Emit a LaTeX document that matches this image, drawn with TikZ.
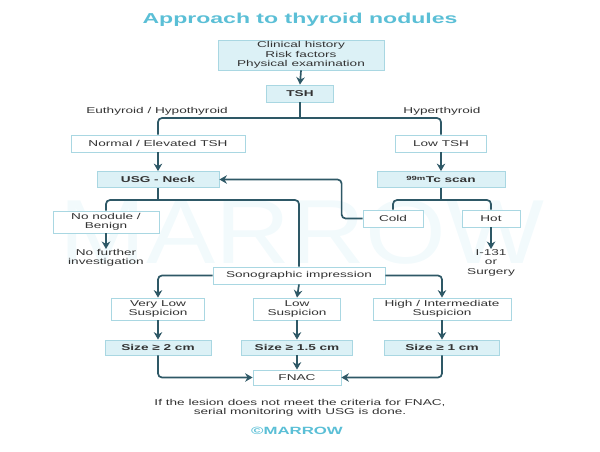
\documentclass[tikz,border=0pt]{standalone}
\usepackage{fontspec}
\setmainfont{Liberation Sans}[FakeStretch=1.6]
\newfontfamily\wmfont{Liberation Sans}[FakeStretch=1.14]
\usetikzlibrary{arrows.meta}
\definecolor{linec}{HTML}{2E5866}
\definecolor{bordc}{HTML}{A9D7E2}
\definecolor{fillc}{HTML}{DCF1F6}
\definecolor{txt}{HTML}{333333}
\definecolor{titlec}{HTML}{5BBFD6}
\definecolor{wmc}{HTML}{F2FAFC}
\newcommand\fs{\fontsize{8.5}{9.5}\selectfont}
\tikzset{
  wbox/.style={draw=bordc, line width=0.8pt, fill=white, text=txt, inner sep=0pt, align=center, font=\fs},
  lbox/.style={wbox, fill=fillc},
  fbox/.style={wbox, fill=fillc, font=\fs\bfseries},
  lbl/.style={text=txt, inner sep=0pt, align=center, font=\fs},
  conn/.style={draw=linec, line width=1.7pt, rounded corners=4pt},
  arr/.style={conn, -{Stealth[length=7.5pt,width=8.5pt]}}
}
\begin{document}
\begin{tikzpicture}[x=1pt,y=-1pt]
\useasboundingbox (0,0) rectangle (600,451);
% watermark
\node[text=wmc, inner sep=0pt, font=\wmfont\fontsize{91}{91}\selectfont] (wm) at (302,232) {MARROW};
% title
\node[text=titlec, inner sep=0pt, font=\fontsize{14.4}{15}\selectfont\bfseries] (title) at (300,20) {Approach to thyroid nodules};
% nodes
\node[lbox, minimum width=166pt, minimum height=30pt] (clin) at (301,55) {Clinical history\\Risk factors\\Physical examination};
\node[fbox, minimum width=67pt, minimum height=17pt] (tsh) at (300,93.5) {TSH};
\node[lbl] (eu) at (157,111) {Euthyroid / Hypothyroid};
\node[lbl] (hy) at (442,111) {Hyperthyroid};
\node[wbox, minimum width=174pt, minimum height=17pt] (normal) at (158,143.5) {Normal / Elevated TSH};
\node[wbox, minimum width=91pt, minimum height=17pt] (lowtsh) at (441,143.5) {Low TSH};
\node[fbox, minimum width=122pt, minimum height=16pt] (usg) at (158,179.5) {USG - Neck};
\node[fbox, minimum width=128pt, minimum height=16pt] (scan) at (441,179.5) {\textsuperscript{99m}Tc scan};
\node[wbox, minimum width=60pt, minimum height=17pt] (cold) at (393,218.5) {Cold};
\node[wbox, minimum width=58pt, minimum height=17pt] (hot) at (491,218.5) {Hot};
\node[wbox, minimum width=106pt, minimum height=22pt] (nonod) at (106,222) {No nodule /\\Benign};
\node[lbl, anchor=north] (nofur) at (106,249) {No further\\investigation};
\node[lbl, anchor=north] (i131) at (491,249) {I-131\\or\\Surgery};
\node[wbox, minimum width=172pt, minimum height=17pt] (sono) at (299,275.5) {Sonographic impression};
\node[wbox, minimum width=93pt, minimum height=22pt] (vlow) at (158,309) {Very Low\\Suspicion};
\node[wbox, minimum width=87pt, minimum height=22pt] (low) at (297,309) {Low\\Suspicion};
\node[wbox, minimum width=138pt, minimum height=22pt] (high) at (442,309) {High / Intermediate\\Suspicion};
\node[fbox, minimum width=106pt, minimum height=15pt] (s2) at (158,347.5) {Size ≥ 2 cm};
\node[fbox, minimum width=111pt, minimum height=15pt] (s15) at (297,347.5) {Size ≥ 1.5 cm};
\node[fbox, minimum width=115pt, minimum height=15pt] (s1) at (442,347.5) {Size ≥ 1 cm};
\node[wbox, minimum width=88pt, minimum height=15pt] (fnac) at (297,377.5) {FNAC};
\node[lbl] (foot) at (300,408) {If the lesion does not meet the criteria for FNAC,\\serial monitoring with USG is done.};
\node[text=titlec, inner sep=0pt, font=\fontsize{10.5}{11}\selectfont\bfseries] (logo) at (297,431) {©MARROW};
% junctions
\coordinate (b1) at (300,118);
\coordinate (b2) at (441,200);
\coordinate (b3) at (158,200);
% connectors
\draw[arr] (clin.south) -- (tsh.north);
\draw[conn] (tsh.south) -- (b1);
\draw[conn] (normal.north) |- (b1) -| (lowtsh.north);
\draw[arr] (normal.south) -- (usg.north);
\draw[arr] (lowtsh.south) -- (scan.north);
\draw[conn] (scan.south) -- (b2);
\draw[conn] (cold.north) |- (b2) -| (hot.north);
\draw[arr] (cold.west) -- ++(-21,0) |- (usg.east);
\draw[arr] (hot.south) -- (i131.north);
\draw[conn] (usg.south) -- (b3);
\draw[conn] (nonod.north) |- (b3) -| (sono.north);
\draw[arr] (nonod.south) -- (nofur.north);
\draw[arr] (sono.west) -| (vlow.north);
\draw[arr] (sono.south) -- (low.north);
\draw[arr] (sono.east) -| (high.north);
\draw[arr] (vlow.south) -- (s2.north);
\draw[arr] (low.south) -- (s15.north);
\draw[arr] (high.south) -- (s1.north);
\draw[arr] (s2.south) |- (fnac.west);
\draw[arr] (s15.south) -- (fnac.north);
\draw[arr] (s1.south) |- (fnac.east);
\end{tikzpicture}
\end{document}
